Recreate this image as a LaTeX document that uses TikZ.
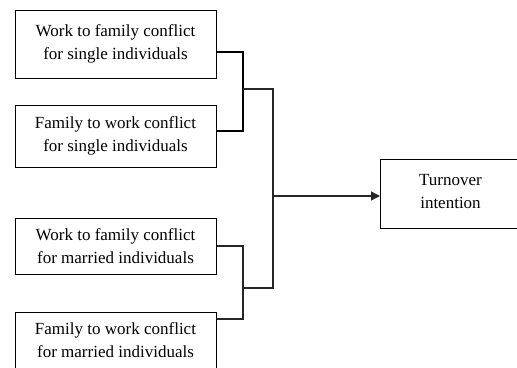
\documentclass[tikz,border=0pt]{standalone}
\usepackage{fontspec}
\setmainfont{Liberation Serif}
\usetikzlibrary{arrows.meta,positioning,calc}

\begin{document}
\begin{tikzpicture}[x=1pt,y=-1pt,
  box/.style={rectangle,draw=black,line width=1pt,align=center,
              minimum width=201pt,inner sep=0pt,
              font=\fontsize{17}{23}\selectfont},
  ln/.style={draw=black!85,line width=1.2pt},
  arr/.style={-{Triangle[length=9pt,width=9pt]},ln}
]
  \useasboundingbox (0,0) rectangle (517,367);

  % predictor boxes
  \node[box,minimum height=68pt] (ws) at (115.5,44)  {Work to family conflict\\for single individuals};
  \node[box,minimum height=62pt] (fs) at (115.5,136) {Family to work conflict\\for single individuals};
  \node[box,minimum height=56pt] (wm) at (115.5,246) {Work to family conflict\\for married individuals};
  \node[box,minimum height=56pt] (fm) at (115.5,340) {Family to work conflict\\for married individuals};

  % outcome
  \node[box,minimum width=140pt,minimum height=69pt,anchor=north west] (ti) at (380,159)
    {\raisebox{21pt}{\begin{tabular}{@{}c@{}}Turnover\\intention\end{tabular}}};

  % joints
  \coordinate (js) at (243,89);
  \coordinate (jm) at (243,288);
  \coordinate (jt) at (273,196);

  \draw[ln,line width=1.8pt,draw=black] ([yshift=-8pt]ws.east) -| (js) |- ([yshift=5pt]fs.east);
  \draw[ln] (wm.east) -| (jm) |- ([yshift=21pt]fm.east);
  \draw[ln] (js) -| (jt) |- (jm);
  \draw[arr] (jt) -- (ti.west |- jt);
\end{tikzpicture}
\end{document}
